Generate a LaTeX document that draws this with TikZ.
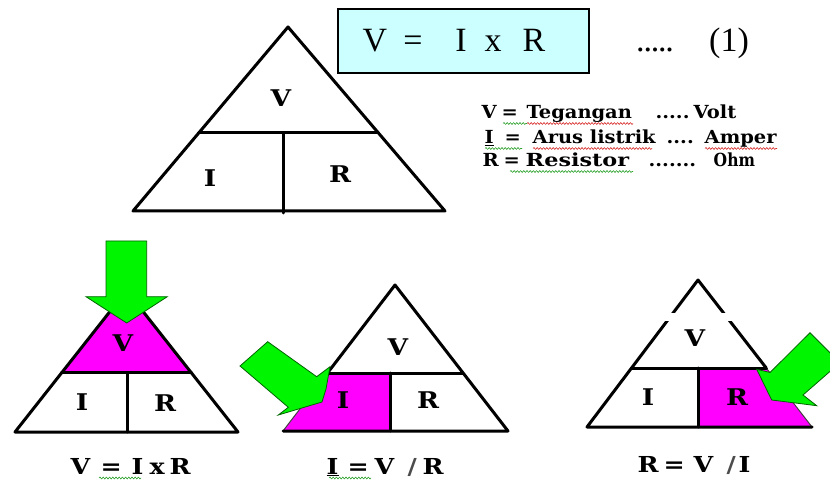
\documentclass[tikz,border=0pt]{standalone}
\usepackage{fontspec}
\setmainfont{Liberation Serif}
\newfontfamily\lblfont{DejaVu Serif}[FakeStretch=1.15]
\newfontfamily\legfont{DejaVu Serif}[FakeStretch=1.08]
\usetikzlibrary{calc,decorations.pathmorphing}
\definecolor{mag}{RGB}{255,0,255}
\definecolor{agreen}{RGB}{0,245,0}
\definecolor{agreenD}{RGB}{0,100,0}
\definecolor{boxcyan}{RGB}{204,255,255}
\definecolor{sqred}{RGB}{215,40,40}
\definecolor{sqgreen}{RGB}{40,160,40}
\newcommand\atx[2]{\makebox[0pt][l]{\hspace*{#1pt}#2}}
\begin{document}
\begin{tikzpicture}[x=1pt,y=-1pt,
  edge/.style={line width=3pt, line join=round, line cap=round},
  thinedge/.style={line width=1pt, black!75},
  blockarrow/.style={fill=agreen, draw=agreenD, line width=0.8pt, line join=miter},
  lbl/.style={font=\lblfont\bfseries\fontsize{23}{23}\selectfont, inner sep=0pt},
  captxt/.style={font=\lblfont\bfseries\fontsize{22}{22}\selectfont, inner sep=0pt, anchor=base west},
  leg/.style={font=\legfont\bfseries\fontsize{18}{18}\selectfont, inner sep=0pt, anchor=base west},
  eqtxt/.style={font=\fontsize{34}{34}\selectfont, inner sep=0pt, anchor=base},
  squig/.style={decorate, decoration={snake, amplitude=0.9pt, segment length=3.2pt}, line width=0.6pt}]
\useasboundingbox (0,0) rectangle (830,481);
\clip (0,0) rectangle (830,481);
\fill[white] (0,0) rectangle (830,481);

% ---------- top triangle ----------
\coordinate (tA) at (288,27);
\coordinate (tL) at (133,211);
\coordinate (tR) at (445,211);
\coordinate (tML) at ($(tA)!0.576!(tL)$);
\coordinate (tMR) at ($(tA)!0.576!(tR)$);
\coordinate (tD1) at (283,133);
\coordinate (tD2) at (283,213);
\draw[edge] (tA) -- (tL) -- (tR) -- cycle;
\draw[edge] (tML) -- (tMR);
\draw[edge] (tD1) -- (tD2);
\node[lbl] (tVlab) at (281,98) {V};
\node[lbl] (tIlab) at (210,178) {I};
\node[lbl] (tRlab) at (340,174) {R};

% ---------- equation box ----------
\node[draw, fill=boxcyan, line width=2.2pt, minimum width=251pt, minimum height=64pt, inner sep=0pt] (eqbox) at (463.5,41) {};
\node[eqtxt] (eqV) at (375,52) {V};
\node[eqtxt] (eqEq) at (413,52) {=};
\node[eqtxt] (eqI) at (461,52) {I};
\node[eqtxt] (eqX) at (493,52) {x};
\node[eqtxt] (eqR) at (534,52) {R};
\node[eqtxt, anchor=base west] (eqDots) at (636,52) {.\kern-1.2pt.\kern-1.2pt.\kern-1.2pt.\kern-1.2pt.};
\node[eqtxt, anchor=base west] (eqNum) at (709,52) {(1)};

% ---------- legend ----------
\node[leg] (leg1) at (481,119) {\atx{0}{V}\atx{20}{=}\atx{45}{Tegangan}\atx{174}{.....}\atx{212}{Volt}};
\node[leg] (leg2) at (484,144) {\atx{0}{\underline{I}}\atx{20}{=}\atx{48}{Arus listrik}\atx{182}{....}\atx{220}{Amper}};
\node[leg] (leg3) at (482,167) {\atx{0}{R}\atx{21}{=}\atx{43}{\scalebox{1.15}[1]{Resistor}}\atx{166}{.......}\atx{231}{\scalebox{0.8}[1]{Ohm}}};
\draw[squig, sqgreen] (503,123.5) -- (527,123.5);
\draw[squig, sqred] (527,123.5) -- (633,123.5);
\draw[squig, sqgreen] (485,148.5) -- (522,148.5);
\draw[squig, sqred] (533,148.5) -- (652,148.5);
\draw[squig, sqred] (705,148.5) -- (777,148.5);
\draw[squig, sqgreen] (510,171.5) -- (633,171.5);

% ---------- bottom-left triangle (V) ----------
\coordinate (aA) at (126.5,290.5);
\coordinate (aL) at (15,432);
\coordinate (aR) at (238,432);
\coordinate (aML) at ($(aA)!0.583!(aL)$);
\coordinate (aMR) at ($(aA)!0.583!(aR)$);
\coordinate (aD1) at (127,373);
\coordinate (aD2) at (127,432);
\fill[mag] (aA) -- (aML) -- (aMR) -- cycle;
\draw[edge] (aA) -- (aL) -- (aR) -- cycle;
\draw[edge] (aML) -- (aMR);
\draw[edge] (aD1) -- (aD2);
\draw[blockarrow] (106,241) -- (146.7,241) -- (146.7,296.7) -- (167.3,296.7) -- (126.7,323) -- (86,296.7) -- (106,296.7) -- cycle;
\node[lbl] (aVlab) at (123,343) {V};
\node[lbl] (aIlab) at (82,402) {I};
\node[lbl] (aRlab) at (165,403) {R};
\node[captxt] (aCap) at (70,474) {\atx{0}{V}\atx{30}{=}\atx{61}{I}\atx{79}{x}\atx{99}{R}};
\draw[squig, sqgreen] (99,478) -- (141,478);

% ---------- bottom-middle triangle (I) ----------
\coordinate (bA) at (395,285);
\coordinate (bL) at (283,431);
\coordinate (bR) at (508,431);
\coordinate (bML) at ($(bA)!0.603!(bL)$);
\coordinate (bMR) at ($(bA)!0.603!(bR)$);
\coordinate (bD1) at (390,373);
\coordinate (bD2) at (390,431);
\fill[mag] (bML) -- (bD1) -- (bD2) -- (bL) -- cycle;
\draw[thinedge] (bML) -- (bL);
\draw[edge] (bML) -- (bA) -- (bR) -- (bL);
\draw[edge] (bML) -- (bMR);
\draw[edge] (bD1) -- (bD2);
\draw[blockarrow] (267.7,341.7) -- (316.7,376.7) -- (330,366.7) -- (326,389) -- (322,402) -- (278.3,415) -- (288.3,407.3) -- (240,366) -- cycle;
\node[lbl] (bVlab) at (398,347) {V};
\node[lbl] (bIlab) at (343,400) {I};
\node[lbl] (bRlab) at (428,400) {R};
\node[captxt] (bCap) at (326,474) {\atx{0}{\underline{I}}\atx{21}{=}\atx{48}{V}\atx{81}{\textcolor{black!70}{/}}\atx{96}{R}};
\draw[squig, sqgreen] (329,478) -- (371,478);

% ---------- bottom-right triangle (R) ----------
\coordinate (cA) at (698,280);
\coordinate (cL) at (587,427);
\coordinate (cR) at (812,427);
\coordinate (cML) at ($(cA)!0.599!(cL)$);
\coordinate (cMR) at ($(cA)!0.599!(cR)$);
\coordinate (cD1) at (698,368);
\coordinate (cD2) at (698,427);
\fill[mag] (cD1) -- (cMR) -- (cR) -- (cD2) -- cycle;
\draw[thinedge] (cMR) -- (cR);
\draw[edge] (cMR) -- (cA) -- (cL) -- (cR);
\draw[edge] (cML) -- (cMR);
\draw[edge] (cD1) -- (cD2);
\fill[white] (660,313) rectangle (740,320.5);
\draw[blockarrow] (810,332.7) -- (840,362.7) -- (803,395) -- (816.7,405.7) -- (771.7,400) -- (756.7,369.3) -- (770,372.5) -- cycle;
\node[lbl] (cVlab) at (695,338) {V};
\node[lbl] (cIlab) at (648,397) {I};
\node[lbl] (cRlab) at (737,397) {R};
\node[captxt] (cCap) at (637,472) {\atx{0}{R}\atx{26}{=}\atx{56}{V}\atx{89}{\textcolor{black!70}{/}}\atx{101}{I}};
\end{tikzpicture}
\end{document}
